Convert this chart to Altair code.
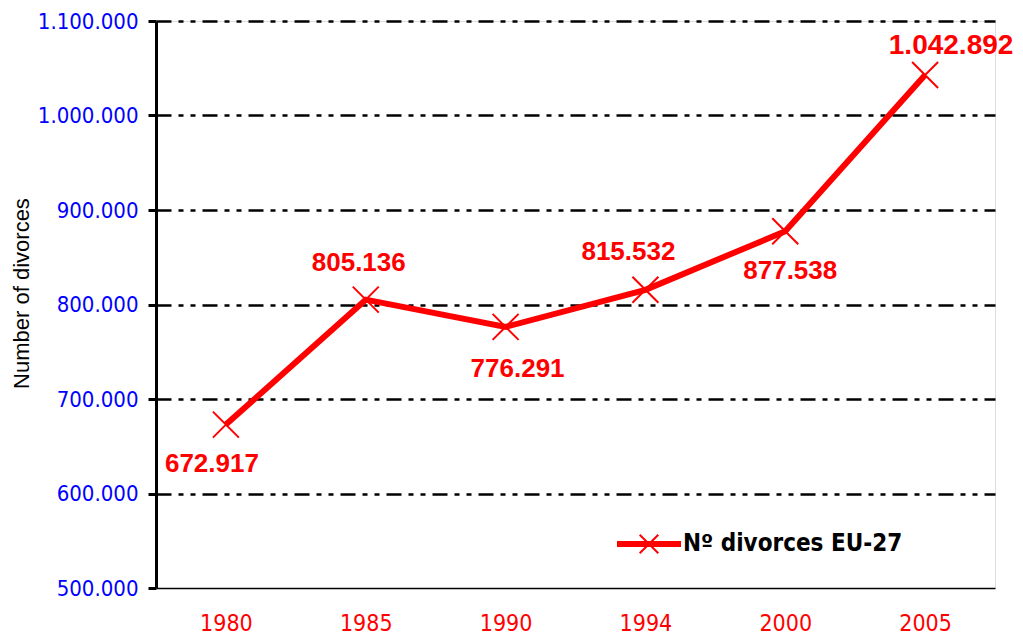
import altair as alt
import pandas as pd

years = ["1980", "1985", "1990", "1994", "2000", "2005"]
divorces = [672917, 805136, 776291, 815532, 877538, 1042892]
series_name = "Nº divorces EU-27"
y_ticks = [500000, 600000, 700000, 800000, 900000, 1000000, 1100000]

df = pd.DataFrame({"year": years, "value": divorces, "series": [series_name] * len(years)})

# label placement offsets (style only)
label_offsets = {
    "1980": (-14, 39, 26),
    "1985": (-7, -37, 26),
    "1990": (12, 42, 26),
    "1994": (-17, -38, 26),
    "2000": (5, 40, 26),
    "2005": (26, -29, 28),
}

RED = "#ff0000"
fmt = "replace(replace(format(datum.value, ','), ',', '.'), ',', '.')"

x_enc = alt.X(
    "year:O",
    scale=alt.Scale(type="point", padding=0.5),
    axis=alt.Axis(
        title=None, labelAngle=0, ticks=False, grid=False,
        domainColor="#000000", domainWidth=1.5,
        labelColor=RED, labelFont="DejaVu Sans Condensed", labelFontSize=23,
        labelPadding=24,
    ),
)
y_enc = alt.Y(
    "value:Q",
    scale=alt.Scale(domain=[500000, 1100000], nice=False, zero=False),
    axis=alt.Axis(
        values=y_ticks,
        labelExpr=fmt,
        title="Number of divorces",
        titleFont="Liberation Sans", titleFontSize=22, titleFontWeight="normal",
        titleColor="#000000", titleX=-135, titleY=272, titleAlign="center",
        titleBaseline="middle", titleAngle=270,
        labelColor="#0000ff", labelFont="DejaVu Sans Condensed", labelFontSize=22,
        labelPadding=10,
        domainColor="#000000", domainWidth=3,
        tickColor="#000000", tickWidth=3, tickSize=8,
        grid=True, gridColor="#000000", gridWidth=2.5,
        gridDash=[15, 7, 5, 7, 5, 7],
        gridOpacity={"condition": {"test": "datum.value == 500000", "value": 0}, "value": 1},
    ),
)

legend_path = "M-1,-0.065H1V0.065H-1Z M-0.3,-0.3L0.3,0.3 M-0.3,0.3L0.3,-0.3"

line = alt.Chart(df).mark_line(strokeWidth=6).encode(
    x=x_enc,
    y=y_enc,
    color=alt.Color(
        "series:N",
        scale=alt.Scale(range=[RED]),
        legend=alt.Legend(
            title=None, orient="none", legendX=461, legendY=491,
            symbolType=legend_path, symbolSize=3844,
            symbolFillColor=RED, symbolStrokeColor=RED, symbolStrokeWidth=2,
            labelFont="DejaVu Sans Condensed", labelFontSize=24, labelFontWeight="bold",
            labelColor="#000000", labelOffset=2, padding=0,
            labelLimit=400,
        ),
    ),
)

points = alt.Chart(df).mark_point(
    shape="M-1,-1L1,1M-1,1L1,-1", size=676, strokeWidth=2, color=RED, filled=False, opacity=1
).encode(x="year:O", y="value:Q")

label_layers = []
for yr, (dx, dy, fs) in label_offsets.items():
    label_layers.append(
        alt.Chart(df)
        .transform_filter(alt.datum.year == yr)
        .transform_calculate(lbl=fmt)
        .mark_text(
            dx=dx, dy=dy, fontSize=fs, font="Liberation Sans", fontWeight="bold",
            color=RED, align="center", baseline="middle",
        )
        .encode(x="year:O", y="value:Q", text="lbl:N")
    )

chart = alt.layer(line, points, *label_layers).properties(
    width=839, height=567,
    autosize=alt.AutoSizeParams(type="none"),
    padding={"left": 148, "top": 13, "right": 20, "bottom": 50},
).configure_view(stroke=None).configure(background="#ffffff")

chart.save("out.html", embed_options={"renderer": "svg", "actions": False})
